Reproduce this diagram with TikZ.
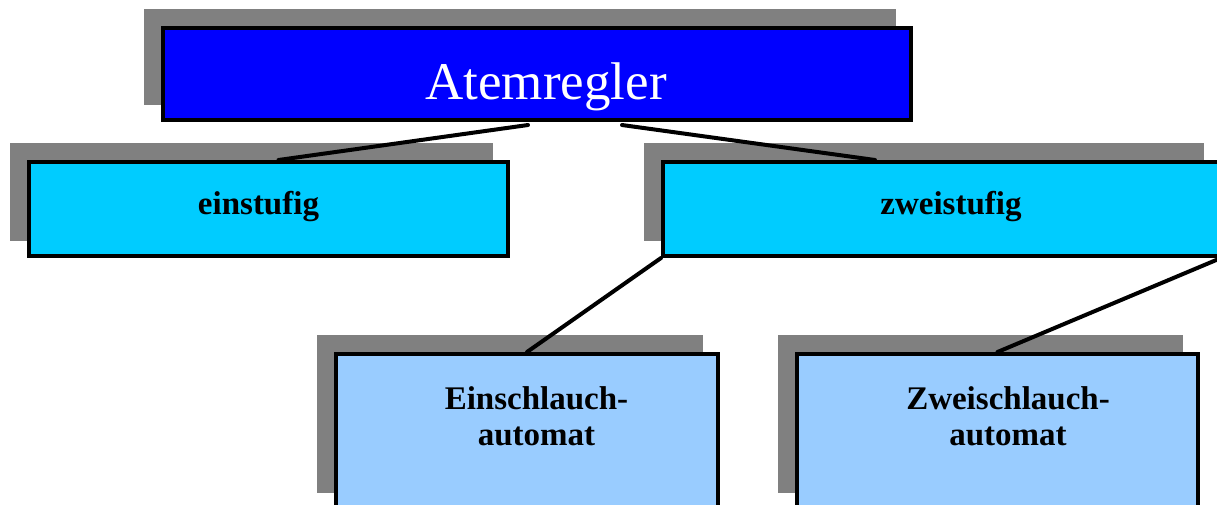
\documentclass[tikz,border=0pt]{standalone}
\usepackage{fontspec}
\setmainfont{Liberation Serif}
\usetikzlibrary{shadows}
\definecolor{topblue}{HTML}{0000FF}
\definecolor{midcyan}{HTML}{00CCFF}
\definecolor{lowblue}{HTML}{99CCFF}
\definecolor{shadowgray}{HTML}{808080}

\begin{document}
\begin{tikzpicture}[x=1pt, y=-1pt,
  box/.style={rectangle, draw=black, line width=4pt, inner sep=0pt,
    general shadow={fill=shadowgray, draw=shadowgray, rounded corners=2pt,
      shadow xshift=-17pt, shadow yshift=17pt}},
  toptext/.style={text=white, font=\fontsize{53}{60}\selectfont},
  subtext/.style={text=black, align=center, font=\fontsize{33}{36}\selectfont\bfseries},
  link/.style={draw=black, line width=4pt, line cap=round}]
  \clip (0,0) rectangle (1217,504);
  \node[box, fill=topblue, minimum width=748pt, minimum height=92pt,
    label={[toptext, xshift=9pt, yshift=-13pt]center:Atemregler}] (regler) at (537,74) {};
  \node[box, fill=midcyan, minimum width=479pt, minimum height=94pt,
    label={[subtext, xshift=-10pt, yshift=2pt]center:einstufig}] (einstufig) at (268.5,209) {};
  \node[box, fill=midcyan, minimum width=556pt, minimum height=94pt,
    label={[subtext, xshift=10pt, yshift=2pt]center:zweistufig}] (zweistufig) at (941,209) {};
  \node[box, fill=lowblue, minimum width=382pt, minimum height=154pt,
    label={[subtext, xshift=9.5pt, yshift=15pt]center:Einschlauch-\\automat}] (einschlauch) at (527,431) {};
  \node[box, fill=lowblue, minimum width=401pt, minimum height=154pt,
    label={[subtext, xshift=10.5pt, yshift=15pt]center:Zweischlauch-\\automat}] (zweischlauch) at (997.5,431) {};
  \draw[link] ([xshift=-9pt, yshift=-3pt]regler.south) -- ([xshift=10pt]einstufig.north);
  \draw[link] ([xshift=85pt, yshift=-3pt]regler.south) -- ([xshift=-66pt]zweistufig.north);
  \draw[link] (zweistufig.south west) -- (einschlauch.north);
  \draw[link] (zweistufig.south east) -- (zweischlauch.north);
\end{tikzpicture}
\end{document}
